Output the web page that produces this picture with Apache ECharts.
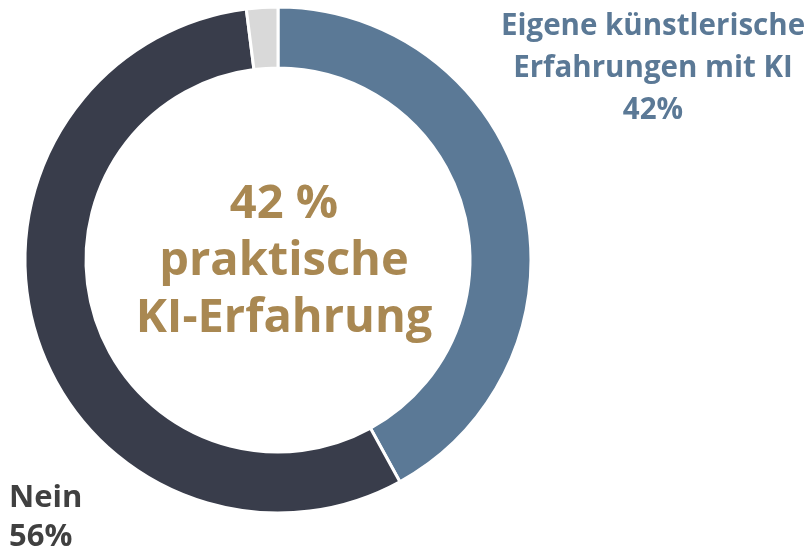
<!DOCTYPE html>
<html lang="de">
<head>
    <meta charset="utf-8">
    <title>KI-Erfahrung</title>
    <script src="https://cdn.jsdelivr.net/npm/echarts@6.0.0/dist/echarts.min.js"></script>
    <style>
        html, body { margin: 0; padding: 0; background: #fff; }
        #chart { width: 805px; height: 555px; }
    </style>
</head>
<body>
    <div id="chart"></div>
    <script>
        // Data
        const categories = ['Eigene künstlerische\nErfahrungen mit KI', 'Nein', 'Keine Angabe'];
        const values = [42, 56, 2];
        const colors = ['#5b7996', '#393d4b', '#d9d9d9'];
        const labelColors = ['#5b7996', '#404040'];
        const centerLines = ['42 %', 'praktische', 'KI-Erfahrung'];

        const chart = echarts.init(document.getElementById('chart'));

        const labelFont = { fontFamily: 'Open Sans', fontWeight: 'bold' };

        chart.setOption({
            animation: false,
            title: [{
                // centre text
                text: centerLines.join('\n'),
                left: 279,
                top: 171,
                textAlign: 'center',
                textStyle: {
                    color: '#a98852',
                    fontFamily: 'Open Sans',
                    fontWeight: 'bold',
                    fontSize: 47,
                    lineHeight: 57
                }
            }, {
                // label of the blue slice
                text: categories[0] + '\n' + values[0] + '%',
                left: 648,
                top: 1,
                textAlign: 'center',
                textStyle: Object.assign({ color: labelColors[0], fontSize: 29.5, lineHeight: 42 }, labelFont)
            }, {
                // label of the dark slice
                text: categories[1] + '\n' + values[1] + '%',
                left: 4,
                top: 474,
                textStyle: Object.assign({ color: labelColors[1], fontSize: 31, lineHeight: 39 }, labelFont)
            }],
            series: [{
                type: 'pie',
                center: [278, 260],
                radius: [192, 253],
                startAngle: 90,
                clockwise: true,
                itemStyle: { borderColor: '#fff', borderWidth: 3 },
                label: { show: false },
                labelLine: { show: false },
                data: categories.map(function (name, i) {
                    return { name: name, value: values[i], itemStyle: { color: colors[i] } };
                })
            }]
        });

        window.addEventListener('resize', function () {
            chart.resize();
        });
    </script>
</body>
</html>
